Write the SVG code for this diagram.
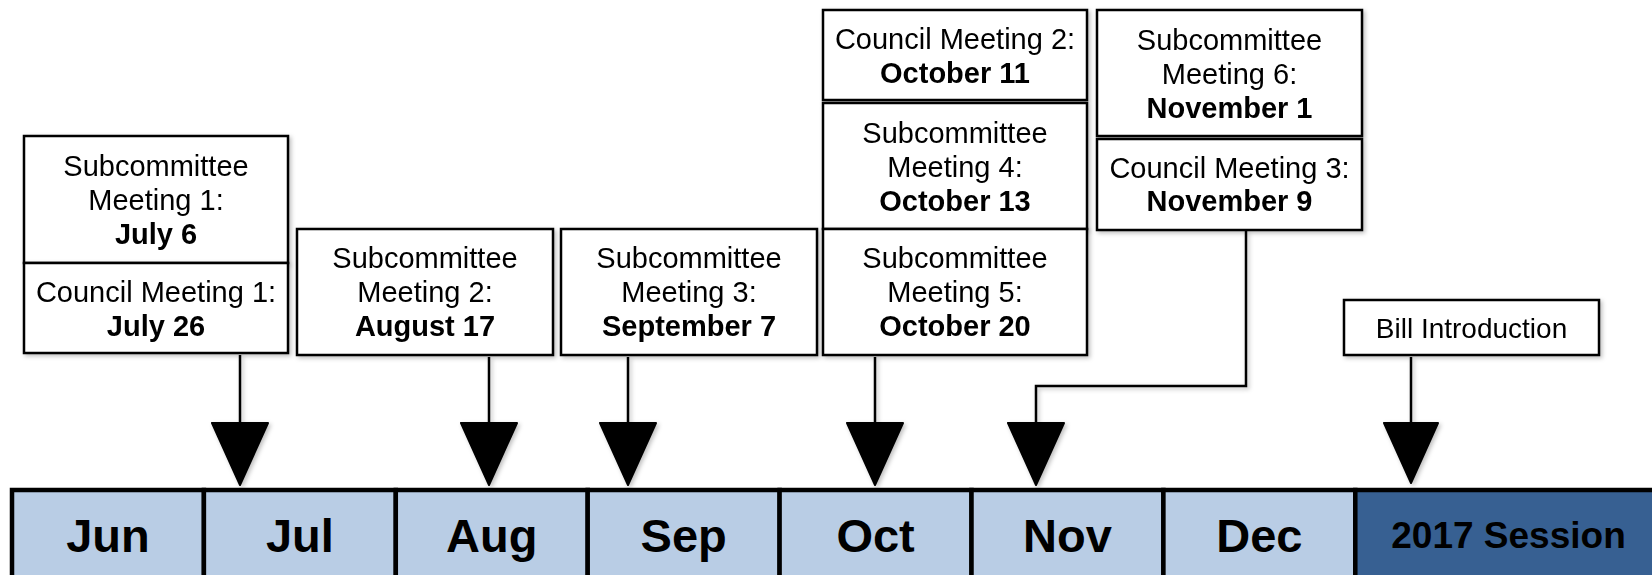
<svg xmlns="http://www.w3.org/2000/svg" width="1652" height="575" viewBox="0 0 1652 575">
<defs>
<filter id="sh" x="-10%" y="-10%" width="130%" height="130%">
<feDropShadow dx="2" dy="2" stdDeviation="2" flood-color="#000" flood-opacity="0.25"/>
</filter>
</defs>
<style>
.box{fill:#fff;stroke:#000;stroke-width:2.5}
.t{font-family:"Liberation Sans",Arial,sans-serif;font-size:29px;fill:#000;text-anchor:middle}
.b{font-weight:bold}
.bill{font-size:28px}
.ln{fill:none;stroke:#000;stroke-width:2.5}
.ah{fill:#000;stroke:#000;stroke-width:2;stroke-linejoin:round}
.mon{fill:#B9CDE5;stroke:#000;stroke-width:4.5}
.ses{fill:#376092;stroke:#000;stroke-width:4.5}
.ml{font-family:"Liberation Sans",Arial,sans-serif;font-size:47px;font-weight:bold;fill:#000;text-anchor:middle}
.sl{font-family:"Liberation Sans",Arial,sans-serif;font-size:37px;font-weight:bold;fill:#000;text-anchor:middle}
</style>

<g id="connectors" filter="url(#sh)">
<path class="ln" d="M240 355 V424"/>
<polygon class="ah" points="212,423 268,423 240,485"/>
<path class="ln" d="M489 357 V424"/>
<polygon class="ah" points="461,423 517,423 489,485"/>
<path class="ln" d="M628 357 V424"/>
<polygon class="ah" points="600,423 656,423 628,485"/>
<path class="ln" d="M875 357 V424"/>
<polygon class="ah" points="847,423 903,423 875,485"/>
<path class="ln" d="M1246 231 V386 H1036 V424"/>
<polygon class="ah" points="1008,423 1064,423 1036,485"/>
<path class="ln" d="M1411 357 V424"/>
<polygon class="ah" points="1384,423 1438,423 1411,483"/>
</g>

<g id="timeline">
<g id="jun"><rect class="mon" x="12" y="490" width="191.9" height="90"/><text class="ml" x="108" y="552">Jun</text></g>
<g id="jul"><rect class="mon" x="203.9" y="490" width="191.9" height="90"/><text class="ml" x="299.9" y="552">Jul</text></g>
<g id="aug"><rect class="mon" x="395.8" y="490" width="191.9" height="90"/><text class="ml" x="491.8" y="552">Aug</text></g>
<g id="sep"><rect class="mon" x="587.7" y="490" width="191.9" height="90"/><text class="ml" x="683.7" y="552">Sep</text></g>
<g id="oct"><rect class="mon" x="779.6" y="490" width="191.9" height="90"/><text class="ml" x="875.6" y="552">Oct</text></g>
<g id="nov"><rect class="mon" x="971.5" y="490" width="191.9" height="90"/><text class="ml" x="1067.5" y="552">Nov</text></g>
<g id="dec"><rect class="mon" x="1163.4" y="490" width="191.9" height="90"/><text class="ml" x="1259.4" y="552">Dec</text></g>
<g id="session"><rect class="ses" x="1355.3" y="490" width="310" height="90"/><text class="sl" x="1508.5" y="548">2017 Session</text></g>
</g>

<g id="sub1" filter="url(#sh)">
<rect class="box" x="24" y="136" width="264" height="127"/>
<text class="t" x="156" y="176">Subcommittee</text>
<text class="t" x="156" y="210">Meeting 1:</text>
<text class="t b" x="156" y="244">July 6</text>
</g>
<g id="council1" filter="url(#sh)">
<rect class="box" x="24" y="263" width="264" height="90"/>
<text class="t" x="156" y="302">Council Meeting 1:</text>
<text class="t b" x="156" y="336">July 26</text>
</g>
<g id="sub2" filter="url(#sh)">
<rect class="box" x="297" y="229" width="256" height="126"/>
<text class="t" x="425" y="268">Subcommittee</text>
<text class="t" x="425" y="302">Meeting 2:</text>
<text class="t b" x="425" y="336">August 17</text>
</g>
<g id="sub3" filter="url(#sh)">
<rect class="box" x="561" y="229" width="256" height="126"/>
<text class="t" x="689" y="268">Subcommittee</text>
<text class="t" x="689" y="302">Meeting 3:</text>
<text class="t b" x="689" y="336">September 7</text>
</g>
<g id="council2" filter="url(#sh)">
<rect class="box" x="823" y="10" width="264" height="90"/>
<text class="t" x="955" y="49">Council Meeting 2:</text>
<text class="t b" x="955" y="83">October 11</text>
</g>
<g id="sub4" filter="url(#sh)">
<rect class="box" x="823" y="103" width="264" height="126"/>
<text class="t" x="955" y="143">Subcommittee</text>
<text class="t" x="955" y="177">Meeting 4:</text>
<text class="t b" x="955" y="211">October 13</text>
</g>
<g id="sub5" filter="url(#sh)">
<rect class="box" x="823" y="229" width="264" height="126"/>
<text class="t" x="955" y="268">Subcommittee</text>
<text class="t" x="955" y="302">Meeting 5:</text>
<text class="t b" x="955" y="336">October 20</text>
</g>
<g id="sub6" filter="url(#sh)">
<rect class="box" x="1097" y="10" width="265" height="126"/>
<text class="t" x="1229.5" y="50">Subcommittee</text>
<text class="t" x="1229.5" y="84">Meeting 6:</text>
<text class="t b" x="1229.5" y="118">November 1</text>
</g>
<g id="council3" filter="url(#sh)">
<rect class="box" x="1097" y="139" width="265" height="91"/>
<text class="t" x="1229.5" y="178">Council Meeting 3:</text>
<text class="t b" x="1229.5" y="211">November 9</text>
</g>
<g id="bill" filter="url(#sh)">
<rect class="box" x="1344" y="300" width="255" height="55"/>
<text class="t bill" x="1471.5" y="338">Bill Introduction</text>
</g>
</svg>
